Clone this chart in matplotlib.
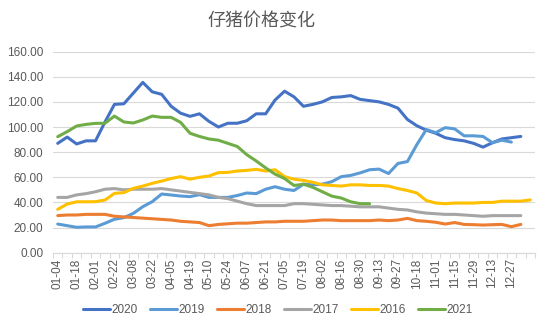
import matplotlib
matplotlib.use('Agg')
import matplotlib.pyplot as plt
import numpy as np
from matplotlib.ticker import FormatStrFormatter

plt.rcParams['font.family'] = ['Liberation Sans', 'Noto Sans CJK SC', 'DejaVu Sans']

title = '仔猪价格变化'
tick_labels = ['01-04', '01-18', '02-01', '02-22', '03-08', '03-22', '04-05', '04-19',
               '05-10', '05-24', '06-07', '06-21', '07-05', '07-19', '08-02', '08-16',
               '08-30', '09-13', '09-27', '10-18', '11-01', '11-15', '11-29', '12-13', '12-27']
n_categories = 51

s2020 = [87, 92, 86.5, 89, 89, 104, 118, 118.5, 127, 135.5,
         128, 126, 116.5, 111, 108.5, 110.5, 104.5, 100, 103, 103,
         105, 110.5, 110.5, 121.5, 128.5, 124, 116.5, 118, 120, 123.5,
         124, 125, 122, 121, 120, 118, 115, 106, 101, 97.5,
         95, 91.5, 90, 89, 87, 84, 87.5, 90.5, 91.5, 92.5]
s2019 = [22.8, 21.5, 20.2, 20.5, 20.5, 23.4, 26.6, 27.9, 31.3, 36.6,
         40.6, 46.7, 45.9, 45.1, 44.6, 46.2, 44, 44, 44, 45.5,
         47.5, 47, 50.5, 52.5, 50.5, 49.5, 54.5, 54, 54.5, 56.5,
         60.5, 61.5, 63.5, 66, 66.5, 63, 71, 72.5, 86, 98,
         95.5, 99.5, 98.5, 93, 93, 92.5, 87.5, 89.5, 88]
s2018 = [29.5, 30, 30, 30.5, 30.5, 30.5, 29, 28.5, 28, 27.5,
         27, 26.5, 26, 25, 24.5, 24, 21.5, 22.5, 23, 23.5,
         23.5, 24, 24.5, 24.5, 25, 25, 25, 25.5, 26, 26,
         25.5, 25.5, 25.5, 25.5, 26, 25.5, 26, 27.3, 25.5, 25,
         24.2, 22.8, 24, 22.5, 22.3, 22, 22.3, 22.5, 20.7, 22.5]
s2017 = [44, 44, 46, 47, 48.5, 50.5, 51, 50, 50.5, 50.5,
         50.5, 51, 50, 49, 48, 47, 46, 44, 43, 41,
         39, 37.5, 37.5, 37.5, 37.5, 39, 39, 38.5, 38, 37.5,
         37.5, 37, 36.5, 36.5, 36.5, 35.5, 34.5, 34, 32.5, 31.5,
         31, 30.5, 30.5, 30, 29.5, 29, 29.5, 29.5, 29.5, 29.5]
s2016 = [34.5, 38.7, 40.5, 40.5, 40.6, 41.9, 47.2, 47.8, 51.2, 53,
         55.2, 57, 59, 60.5, 58.5, 60, 61, 63.7, 63.9, 65,
         65.5, 66.3, 65, 66, 60.5, 58.5, 57.5, 56, 54, 53.5,
         53, 54, 54, 53.5, 53.5, 53, 51, 49.5, 47.5, 41.5,
         39.5, 39, 39.5, 39.5, 39.5, 40, 40, 41, 41, 41, 42]
s2021 = [92.3, 96.3, 100.8, 102.1, 102.9, 103, 108.7, 104, 103.2, 105.6,
         108.7, 107.7, 107.7, 103.7, 95, 92.5, 90.5, 89.5, 87, 84.5,
         78, 73, 67.5, 62.5, 59, 53.5, 54.5, 52, 48.5, 45,
         43.5, 40.5, 39, 39]

series_names = ['2020', '2019', '2018', '2017', '2016', '2021']
series_values = [s2020, s2019, s2018, s2017, s2016, s2021]
series_colors = ['#4472C4', '#5B9BD5', '#ED7D31', '#A5A5A5', '#FFC000', '#70AD47']

fig = plt.figure(figsize=(5.5, 3.3), dpi=100)
ax = fig.add_axes([53/550, 1 - 252.7/330, (535 - 53)/550, (252.7 - 51.6)/330])

for name, vals, color in zip(series_names, series_values, series_colors):
    ax.plot(np.arange(len(vals)), vals, color=color, lw=2.2, label=name,
            solid_capstyle='round', solid_joinstyle='round')

ax.set_xlim(-0.5, n_categories - 0.5)
ax.set_ylim(0, 160)
ax.set_yticks(np.arange(0, 161, 20))
ax.yaxis.set_major_formatter(FormatStrFormatter('%.2f'))
ax.grid(axis='y', color='#D9D9D9', lw=0.8)
ax.set_axisbelow(True)
for s in ['top', 'right', 'left']:
    ax.spines[s].set_visible(False)
ax.spines['bottom'].set_color('#D9D9D9')
ax.spines['bottom'].set_linewidth(0.8)
ax.tick_params(axis='y', length=0, labelsize=8.5, labelcolor='#595959', pad=7)
ax.set_xticks(np.arange(0, 2 * len(tick_labels) - 1, 2))
ax.set_xticklabels(tick_labels, rotation=90)
ax.tick_params(axis='x', which='major', length=0, labelsize=8.5, labelcolor='#595959', pad=4)
ax.set_xticks(np.arange(-0.5, n_categories, 1), minor=True)
ax.tick_params(axis='x', which='minor', length=3.5, color='#D9D9D9', width=0.8, direction='out')

fig.text(0.475, 1 - 22/330, title, ha='center', va='center', fontsize=13, color='#595959',
         family=['Noto Sans CJK SC', 'DejaVu Sans'])

fig.legend(loc='center', bbox_to_anchor=(0.505, 1 - 310/330), ncol=6, frameon=False,
           fontsize=8.5, handlelength=2.3, handletextpad=0.15, columnspacing=1.0,
           labelcolor='#595959')

fig.savefig('out.png', dpi=100, facecolor='white')
